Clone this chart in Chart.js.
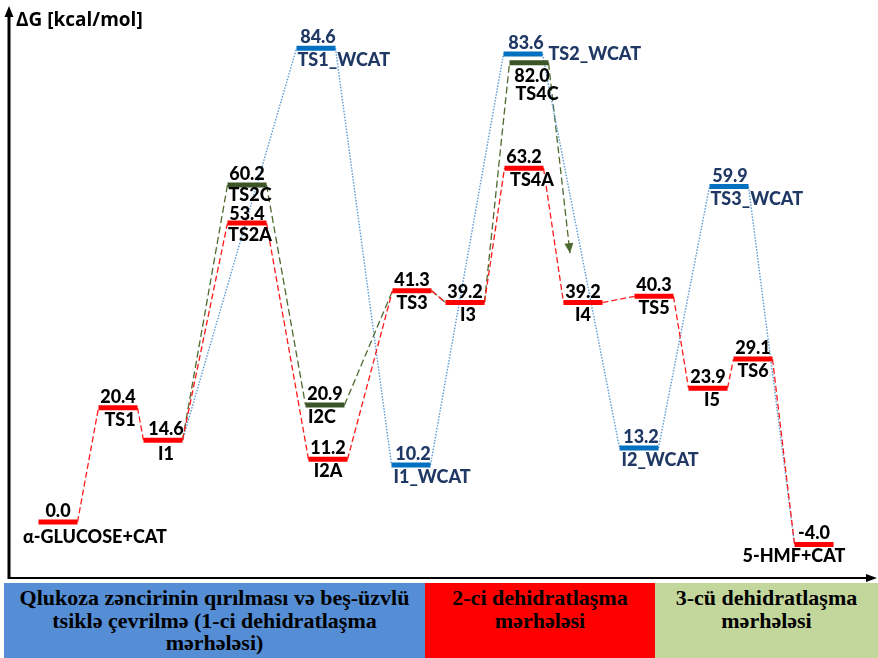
<!DOCTYPE html>
<html>
<head>
<meta charset="utf-8">
<script src="https://cdn.jsdelivr.net/npm/chart.js@4.4.1/dist/chart.umd.min.js"></script>
<style>
  html, body { margin: 0; padding: 0; background: #fff; }
  #wrap { position: relative; width: 878px; height: 658px; overflow: hidden; background: #fff; }
  #chartBox { position: absolute; left: 0; top: 0; width: 878px; height: 582px; }
  .band {
    position: absolute; top: 583px; height: 75px; box-sizing: border-box; padding-top: 4px;
    text-align: center; color: #000;
    font: bold 22px "Liberation Serif", "Times New Roman", serif; line-height: 22.5px;
  }
</style>
</head>
<body>
<div id="wrap">
  <div id="chartBox"><canvas id="energyChart" width="878" height="582"></canvas></div>
  <div class="band" style="left:4px;width:421px;background:#558ED5;">Qlukoza zəncirinin qırılması və beş-üzvlü<br>tsiklə çevrilmə (1-ci dehidratlaşma<br>mərhələsi)</div>
  <div class="band" style="left:425px;width:230px;background:#FF0000;">2-ci dehidratlaşma<br>mərhələsi</div>
  <div class="band" style="left:655px;width:223px;background:#C3D69B;">3-cü dehidratlaşma<br>mərhələsi</div>
</div>
<script>
// Stationary points: name, free energy (kcal/mol), position along the reaction coordinate
const stateNames = ['α-GLUCOSE+CAT', 'TS1', 'I1', 'TS2A', 'I2A', 'TS3', 'I3', 'TS4A', 'I4', 'TS5', 'I5', 'TS6', '5-HMF+CAT',
                    'TS2C', 'I2C', 'TS4C',
                    'TS1_WCAT', 'I1_WCAT', 'TS2_WCAT', 'I2_WCAT', 'TS3_WCAT'];
const stateEnergies = [0.0, 20.4, 14.6, 53.4, 11.2, 41.3, 39.2, 63.2, 39.2, 40.3, 23.9, 29.1, -4.0,
                       60.2, 20.9, 82.0,
                       84.6, 10.2, 83.6, 13.2, 59.9];
const statePositions = [4.9, 10.9, 15.4, 23.8, 31.9, 40.3, 45.6, 51.5, 57.4, 64.5, 69.9, 74.4, 80.5,
                        23.8, 31.6, 52.0,
                        30.7, 40.2, 51.4, 63.0, 72.0];

// Pathways (sequences of stationary points)
const pathA = ['α-GLUCOSE+CAT', 'TS1', 'I1', 'TS2A', 'I2A', 'TS3', 'I3', 'TS4A', 'I4', 'TS5', 'I5', 'TS6', '5-HMF+CAT'];
const pathC = ['I1', 'TS2C', 'I2C', 'TS3', 'I3', 'TS4C'];
const pathWCAT = ['I1', 'TS1_WCAT', 'I1_WCAT', 'TS2_WCAT', 'I2_WCAT', 'TS3_WCAT', '5-HMF+CAT'];
// end point of the arrow leaving TS4C (position, energy)
const pathCArrowEnd = [56.1, 48.0];

const HALF = 1.95; // half width of a level bar, in reaction-coordinate units

const COLORS = {
  A: '#FF0000', C: '#3B5526', W: '#0070C0',
  lineA: '#FF1A1A', lineC: '#4F6A2E', lineW: '#5B9BD5',
  textW: '#1F3864', text: '#000000'
};

const idx = n => stateNames.indexOf(n);
const groupOf = n => {
  if (pathA.includes(n)) return 'A';
  if (pathC.includes(n)) return 'C';
  return 'W';
};

const datasets = [];
// level bars
stateNames.forEach((n, i) => {
  datasets.push({
    label: n,
    data: [{ x: statePositions[i] - HALF, y: stateEnergies[i] }, { x: statePositions[i] + HALF, y: stateEnergies[i] }],
    borderColor: COLORS[groupOf(n)], borderWidth: 5, borderCapStyle: 'butt',
    pointRadius: 0, fill: false, order: 0
  });
});
// connectors between consecutive levels
function addPath(path, color, dash, width) {
  for (let k = 0; k < path.length - 1; k++) {
    const a = idx(path[k]), b = idx(path[k + 1]);
    datasets.push({
      label: path[k] + '→' + path[k + 1],
      data: [{ x: statePositions[a] + HALF, y: stateEnergies[a] }, { x: statePositions[b] - HALF, y: stateEnergies[b] }],
      borderColor: color, borderWidth: width, borderDash: dash,
      pointRadius: 0, fill: false, order: 1
    });
  }
}
addPath(pathA, COLORS.lineA, [6, 3], 1.3);
addPath(pathC, COLORS.lineC, [7, 3.5], 1.3);
addPath(pathWCAT, COLORS.lineW, [1.5, 1.5], 1.4);
const tsc = idx('TS4C');
datasets.push({
  label: 'TS4C→',
  data: [{ x: statePositions[tsc] + HALF, y: stateEnergies[tsc] }, { x: pathCArrowEnd[0], y: pathCArrowEnd[1] }],
  borderColor: COLORS.lineC, borderWidth: 1.3, borderDash: [7, 3.5],
  pointRadius: 0, fill: false, order: 1, isArrow: true
});

// label placement tweaks (pixels)
const labelLayout = {
  'α-GLUCOSE+CAT': { nameDx: 37, nameDy: 3 },
  'TS1': { nameDx: 2 }, 'I1': { nameDx: 3, valueDx: 3, nameDy: 2 },
  'TS2A': { nameDx: 3, valueDy: 2 }, 'TS2C': { nameDx: 3, nameDy: -2 },
  'I2C': { nameDx: -3 }, 'I3': { nameDx: 3 },
  'TS4A': { nameDx: 8 },
  'TS4C': { valueBelow: true, nameDx: 8, valueDx: 3 },
  'I5': { nameDx: 4 }, '5-HMF+CAT': { nameDx: -20 },
  'TS1_WCAT': { nameLeft: 1, valueDx: 2 }, 'I1_WCAT': { nameLeft: 2, valueDx: 2 },
  'TS2_WCAT': { nameRight: true, valueDx: 3 }, 'I2_WCAT': { nameLeft: 2, valueDx: 2 },
  'TS3_WCAT': { nameLeft: 1, valueDx: 1 }
};

const LABEL_FONT = '900 18px Lato, "Open Sans", sans-serif';

const levelLabels = {
  id: 'levelLabels',
  afterDatasetsDraw(chart) {
    const { ctx, scales: { x, y } } = chart;
    ctx.save();
    ctx.font = LABEL_FONT;
    ctx.textBaseline = 'alphabetic';
    stateNames.forEach((n, i) => {
      const lay = labelLayout[n] || {};
      const cx = x.getPixelForValue(statePositions[i]);
      const left = x.getPixelForValue(statePositions[i] - HALF);
      const right = x.getPixelForValue(statePositions[i] + HALF);
      const py = y.getPixelForValue(stateEnergies[i]);
      ctx.fillStyle = groupOf(n) === 'W' ? COLORS.textW : COLORS.text;
      const value = stateEnergies[i].toFixed(1);
      ctx.textAlign = 'center';
      if (lay.valueBelow) {
        ctx.fillText(value, cx + (lay.valueDx || 0), py + 19);
        ctx.fillText(n, cx + (lay.nameDx || 0), py + 37);
        return;
      }
      ctx.fillText(value, cx + (lay.valueDx || 0), py - 5 + (lay.valueDy || 0));
      const nameY = py + 18 + (lay.nameDy || 0);
      if (lay.nameRight) {
        ctx.textAlign = 'left';
        ctx.fillText(n, right + 6, py + 6);
      } else if (lay.nameLeft !== undefined) {
        ctx.textAlign = 'left';
        ctx.fillText(n, left + lay.nameLeft, nameY);
      } else {
        ctx.fillText(n, cx + (lay.nameDx || 0), nameY);
      }
    });
    // arrow head at the end of the TS4C connector
    chart.data.datasets.forEach((ds) => {
      if (!ds.isArrow) return;
      const p0 = ds.data[0], p1 = ds.data[1];
      const x0 = x.getPixelForValue(p0.x), y0 = y.getPixelForValue(p0.y);
      const x1 = x.getPixelForValue(p1.x), y1 = y.getPixelForValue(p1.y);
      const ang = Math.atan2(y1 - y0, x1 - x0);
      const L = 10, W = 4.5;
      ctx.fillStyle = COLORS.lineC;
      ctx.beginPath();
      ctx.moveTo(x1, y1);
      ctx.lineTo(x1 - L * Math.cos(ang) + W * Math.sin(ang), y1 - L * Math.sin(ang) - W * Math.cos(ang));
      ctx.lineTo(x1 - L * Math.cos(ang) - W * Math.sin(ang), y1 - L * Math.sin(ang) + W * Math.cos(ang));
      ctx.closePath();
      ctx.fill();
    });
    ctx.restore();
  }
};

const axesArrows = {
  id: 'axesArrows',
  beforeDatasetsDraw(chart) {
    const { ctx, chartArea: a } = chart;
    const x0 = a.left, y0 = a.bottom;
    ctx.save();
    ctx.strokeStyle = '#000';
    ctx.fillStyle = '#000';
    // vertical axis
    ctx.lineWidth = 3;
    ctx.beginPath(); ctx.moveTo(x0, y0 + 1); ctx.lineTo(x0, 14); ctx.stroke();
    ctx.beginPath(); ctx.moveTo(x0, 6); ctx.lineTo(x0 - 4.5, 17); ctx.lineTo(x0 + 4.5, 17); ctx.closePath(); ctx.fill();
    // horizontal axis
    ctx.lineWidth = 2;
    ctx.beginPath(); ctx.moveTo(x0, y0); ctx.lineTo(868, y0); ctx.stroke();
    ctx.beginPath(); ctx.moveTo(877, y0); ctx.lineTo(866, y0 - 4); ctx.lineTo(866, y0 + 4); ctx.closePath(); ctx.fill();
    // axis title
    ctx.font = 'bold 19px "Open Sans", Lato, sans-serif';
    ctx.textAlign = 'left';
    ctx.textBaseline = 'alphabetic';
    ctx.fillText('ΔG [kcal/mol]', 16, 26);
    ctx.restore();
  }
};

new Chart(document.getElementById('energyChart'), {
  type: 'line',
  data: { datasets },
  options: {
    responsive: false,
    animation: false,
    layout: { padding: { left: 9, right: 3, top: 8, bottom: 4 } },
    scales: {
      x: { type: 'linear', min: 0, max: 86.6, display: false },
      y: { type: 'linear', min: -10.0, max: 91.8, display: false }
    },
    plugins: { legend: { display: false }, tooltip: { enabled: false } },
    elements: { point: { radius: 0 }, line: { tension: 0 } }
  },
  plugins: [axesArrows, levelLabels]
});
</script>
</body>
</html>
